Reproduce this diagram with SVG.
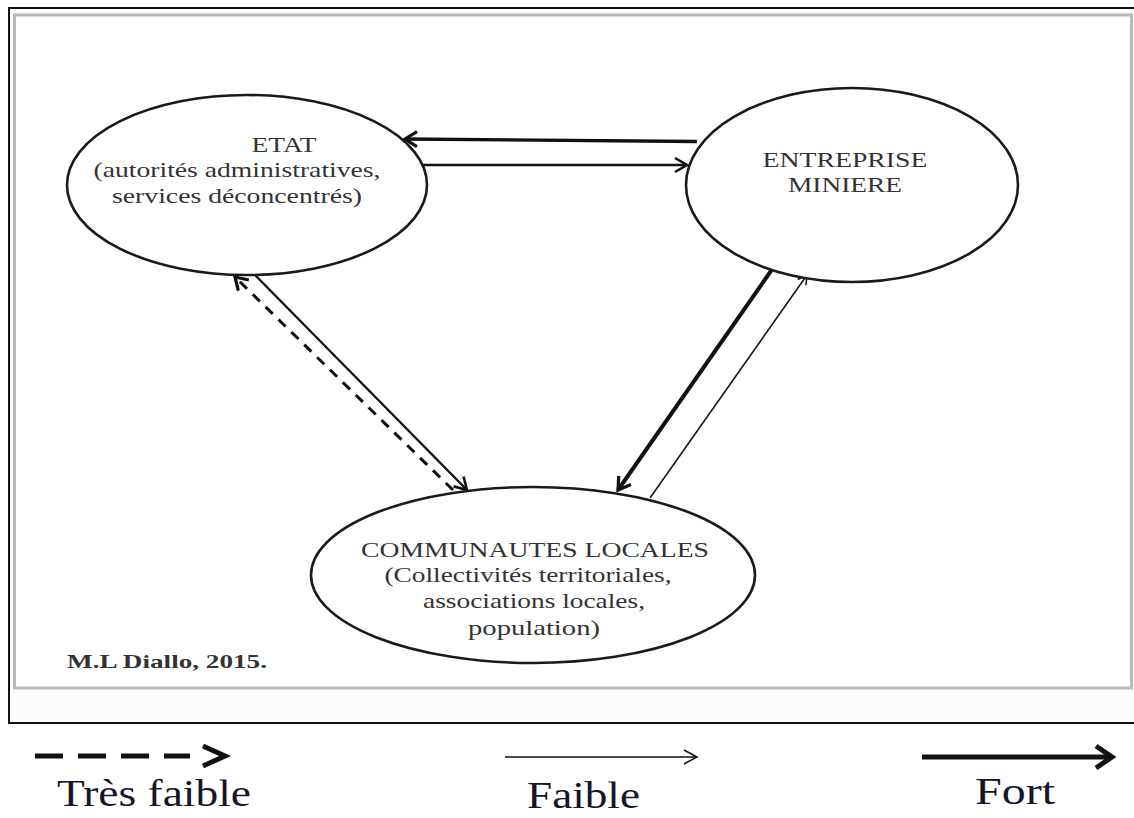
<svg xmlns="http://www.w3.org/2000/svg" width="1134" height="818" viewBox="0 0 1134 818">
<style>
.node{fill:#fff;stroke:#1a1a1a;stroke-width:2.6}
.nt{font-family:'Liberation Serif','Times New Roman',serif;font-size:21px;fill:#333}
.lt{font-family:'Liberation Serif','Times New Roman',serif;font-size:38px;fill:#15152a}
.c{stroke:#111;fill:none}
</style>
<defs>
<marker id="hThick" markerUnits="userSpaceOnUse" markerWidth="24" markerHeight="24" refX="20" refY="12" orient="auto" viewBox="0 0 24 24">
<path d="M8,4.5 L20,12 L8,19.5" fill="none" stroke="#111" stroke-width="3.2"/>
</marker>
<marker id="hMid" markerUnits="userSpaceOnUse" markerWidth="24" markerHeight="24" refX="20" refY="12" orient="auto" viewBox="0 0 24 24">
<path d="M8,5 L20,12 L8,19" fill="none" stroke="#111" stroke-width="2.6"/>
</marker>
<marker id="hThin" markerUnits="userSpaceOnUse" markerWidth="24" markerHeight="24" refX="20" refY="12" orient="auto" viewBox="0 0 24 24">
<path d="M11,7 L20,12 L11,17" fill="none" stroke="#111" stroke-width="1.5"/>
</marker>
</defs>
<rect width="1134" height="818" fill="#fff"/>
<g id="frame">
<rect x="9" y="8" width="1130" height="715" fill="#fff" stroke="#111" stroke-width="2"/>
<rect x="14.5" y="15" width="1117" height="673" fill="#fff" stroke="#b8b8b8" stroke-width="3"/>
<rect x="10" y="690" width="1124" height="32" fill="#fcfcfc"/>
</g>
<g id="connectors">
<line class="c" x1="697" y1="141.5" x2="405" y2="139" stroke-width="3.4" marker-end="url(#hThick)"/>
<line class="c" x1="423" y1="165" x2="687" y2="165" stroke-width="2.6" marker-end="url(#hMid)"/>
<line class="c" x1="453" y1="490" x2="235" y2="277" stroke-width="3" stroke-dasharray="10 8" marker-end="url(#hThick)"/>
<line class="c" x1="255" y1="275" x2="467" y2="490" stroke-width="2.4" marker-end="url(#hMid)"/>
<line class="c" x1="773" y1="268" x2="618" y2="490" stroke-width="4" marker-end="url(#hThick)"/>
<line class="c" x1="650" y1="498" x2="807" y2="275" stroke-width="1.5" marker-end="url(#hThin)"/>
</g>
<g id="etat">
<ellipse class="node" cx="247" cy="185" rx="180" ry="90"/>
<text class="nt" x="284" y="152" text-anchor="middle" textLength="65" lengthAdjust="spacingAndGlyphs">ETAT</text>
<text class="nt" x="237" y="177" text-anchor="middle" textLength="287" lengthAdjust="spacingAndGlyphs">(autorités administratives,</text>
<text class="nt" x="237" y="203" text-anchor="middle" textLength="250" lengthAdjust="spacingAndGlyphs">services déconcentrés)</text>
</g>
<g id="entreprise">
<ellipse class="node" cx="852" cy="185" rx="166" ry="97"/>
<text class="nt" x="845" y="167" text-anchor="middle" textLength="165" lengthAdjust="spacingAndGlyphs">ENTREPRISE</text>
<text class="nt" x="845" y="192" text-anchor="middle" textLength="114" lengthAdjust="spacingAndGlyphs">MINIERE</text>
</g>
<g id="communautes">
<ellipse class="node" cx="533" cy="575" rx="222" ry="88"/>
<text class="nt" x="535" y="557" text-anchor="middle" textLength="348" lengthAdjust="spacingAndGlyphs">COMMUNAUTES LOCALES</text>
<text class="nt" x="528" y="582" text-anchor="middle" textLength="287" lengthAdjust="spacingAndGlyphs">(Collectivités territoriales,</text>
<text class="nt" x="534" y="608" text-anchor="middle" textLength="222" lengthAdjust="spacingAndGlyphs">associations locales,</text>
<text class="nt" x="534" y="635" text-anchor="middle" textLength="132" lengthAdjust="spacingAndGlyphs">population)</text>
</g>
<g id="source">
<text class="nt" x="67" y="668" font-weight="bold" fill="#555" textLength="200" lengthAdjust="spacingAndGlyphs" style="font-size:19px">M.L Diallo, 2015.</text>
</g>
<g id="legend">
<line x1="35" y1="756" x2="190" y2="756" stroke="#111" stroke-width="5" stroke-dasharray="28 15"/>
<path d="M203,746 L225,756 L203,766" fill="none" stroke="#111" stroke-width="5"/>
<text class="lt" x="57" y="806" textLength="194" lengthAdjust="spacingAndGlyphs">Très faible</text>
<line x1="505" y1="757" x2="696" y2="757" stroke="#111" stroke-width="1.5"/>
<path d="M684,750 L697,757 L684,764" fill="none" stroke="#111" stroke-width="1.5"/>
<text class="lt" x="527" y="808" textLength="113" lengthAdjust="spacingAndGlyphs">Faible</text>
<line x1="922" y1="757" x2="1108" y2="757" stroke="#111" stroke-width="5"/>
<path d="M1096,746 L1112,757 L1096,768" fill="none" stroke="#111" stroke-width="5"/>
<text class="lt" x="975" y="804" textLength="80" lengthAdjust="spacingAndGlyphs">Fort</text>
</g>
</svg>
